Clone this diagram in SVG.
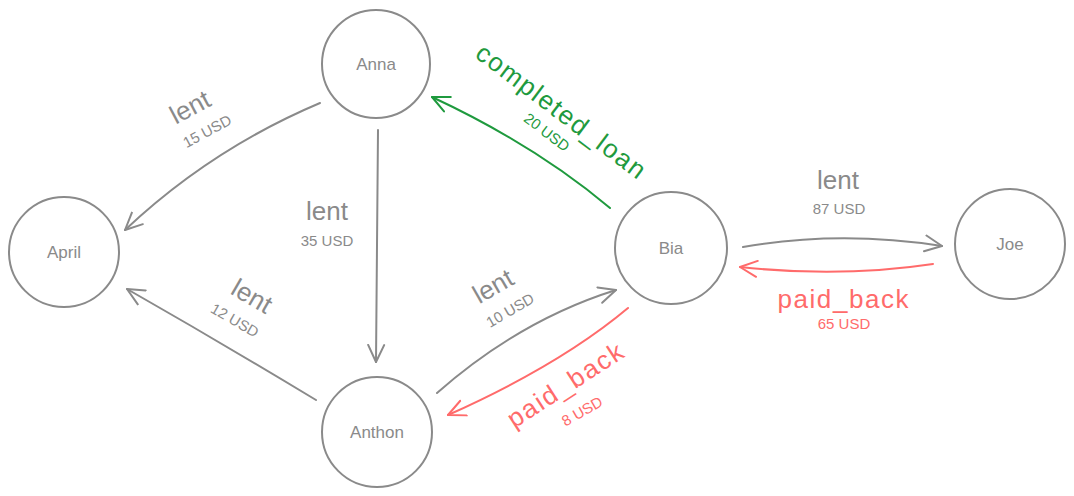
<svg xmlns="http://www.w3.org/2000/svg" width="1074" height="496" viewBox="0 0 1074 496">
<style>
.node{fill:none;stroke:#8a8a8a;stroke-width:2}
.nl{font-family:"Liberation Sans",Arial,sans-serif;font-size:17px;fill:#8a8a8a;text-anchor:middle;dominant-baseline:central}
.c{fill:none;stroke-width:2;stroke-linecap:round}
.g{stroke:#8a8a8a}
.r{stroke:#ff6b6b}
.gr{stroke:#1f9a3e}
.big{font-family:"Liberation Sans",Arial,sans-serif;font-size:26px;text-anchor:middle;dominant-baseline:central}
.sm{font-family:"Liberation Sans",Arial,sans-serif;font-size:15px;text-anchor:middle;dominant-baseline:central}
.tg{fill:#8a8a8a}
.tr{fill:#ff6b6b}
.tgr{fill:#1f9a3e}
</style>
<defs>
<marker id="ag" viewBox="0 0 20 20" refX="18" refY="10" markerWidth="20" markerHeight="20" markerUnits="userSpaceOnUse" orient="auto"><path d="M1,2 L18,10 L1,18" fill="none" stroke="#8a8a8a" stroke-width="2" stroke-linecap="round" stroke-linejoin="round"/></marker>
<marker id="ar" viewBox="0 0 20 20" refX="18" refY="10" markerWidth="20" markerHeight="20" markerUnits="userSpaceOnUse" orient="auto"><path d="M1,2 L18,10 L1,18" fill="none" stroke="#ff6b6b" stroke-width="2" stroke-linecap="round" stroke-linejoin="round"/></marker>
<marker id="agr" viewBox="0 0 20 20" refX="18" refY="10" markerWidth="20" markerHeight="20" markerUnits="userSpaceOnUse" orient="auto"><path d="M1,2 L18,10 L1,18" fill="none" stroke="#1f9a3e" stroke-width="2" stroke-linecap="round" stroke-linejoin="round"/></marker>
</defs>
<rect width="1074" height="496" fill="#ffffff"/>
<g id="connectors">
<path class="c g" d="M320,103 Q211,149 125,230" marker-end="url(#ag)"/>
<path class="c g" d="M378,130 L376,362" marker-end="url(#ag)"/>
<path class="c g" d="M316,400 Q220,342 127,289" marker-end="url(#ag)"/>
<path class="c g" d="M437,393 Q520,320 616,290" marker-end="url(#ag)"/>
<path class="c r" d="M628,308 Q560,365 448,415" marker-end="url(#ar)"/>
<path class="c gr" d="M610,208 Q535,145 432,97" marker-end="url(#agr)"/>
<path class="c g" d="M743,247 Q840,230 942,246" marker-end="url(#ag)"/>
<path class="c r" d="M933,264 Q840,278 740,267" marker-end="url(#ar)"/>
</g>
<g id="labels">
<text class="big tg" x="190" y="107" transform="rotate(-28 190 107)">lent</text>
<text class="sm tg" x="207" y="131" transform="rotate(-28 207 131)">15 USD</text>
<text class="big tg" x="327" y="211">lent</text>
<text class="sm tg" x="327" y="240">35 USD</text>
<text class="big tg" x="252" y="296" transform="rotate(30 252 296)">lent</text>
<text class="sm tg" x="235" y="320" transform="rotate(30 235 320)">12 USD</text>
<text class="big tg" x="493" y="286" transform="rotate(-30 493 286)">lent</text>
<text class="sm tg" x="510" y="310" transform="rotate(-30 510 310)">10 USD</text>
<text class="big tr" x="565" y="385" transform="rotate(-33 565 385)" textLength="133" lengthAdjust="spacing">paid_back</text>
<text class="sm tr" x="582" y="411" transform="rotate(-30 582 411)">8 USD</text>
<text class="big tgr" x="561" y="111" transform="rotate(37 561 111)" textLength="205" lengthAdjust="spacing">completed_loan</text>
<text class="sm tgr" x="547" y="132" transform="rotate(37 547 132)">20 USD</text>
<text class="big tg" x="838" y="180">lent</text>
<text class="sm tg" x="839" y="208">87 USD</text>
<text class="big tr" x="843" y="299" textLength="131" lengthAdjust="spacing">paid_back</text>
<text class="sm tr" x="844" y="323">65 USD</text>
</g>
<g id="node-anna"><circle class="node" cx="376" cy="64" r="54"/><text class="nl" x="376" y="64">Anna</text></g>
<g id="node-april"><circle class="node" cx="64" cy="252" r="55"/><text class="nl" x="64" y="252">April</text></g>
<g id="node-anthon"><circle class="node" cx="377" cy="432" r="55"/><text class="nl" x="377" y="432">Anthon</text></g>
<g id="node-bia"><circle class="node" cx="671" cy="248" r="56"/><text class="nl" x="671" y="248">Bia</text></g>
<g id="node-joe"><circle class="node" cx="1010" cy="244" r="55"/><text class="nl" x="1010" y="244">Joe</text></g>
</svg>
